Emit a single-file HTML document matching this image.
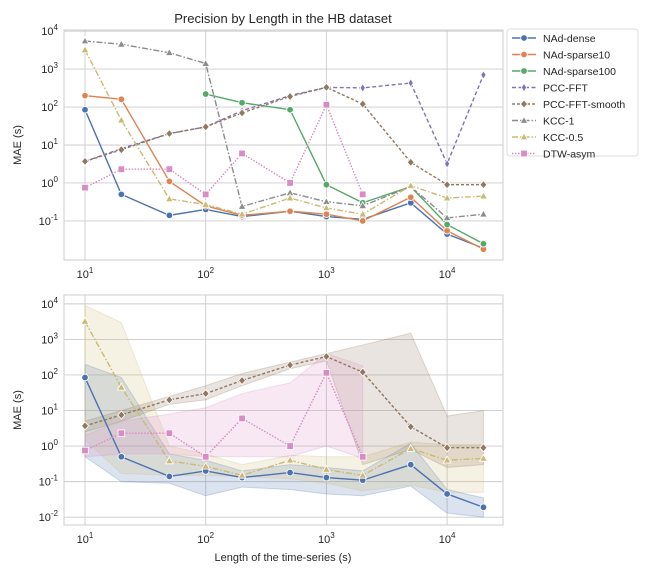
<!DOCTYPE html>
<html><head><meta charset="utf-8"><style>
body{margin:0;background:#fff;font-family:"Liberation Sans","DejaVu Sans",sans-serif;}
svg text{fill:#262626;font-family:"Liberation Sans","DejaVu Sans",sans-serif;}
</style></head><body>
<svg id="chart" width="648" height="576" xmlns="http://www.w3.org/2000/svg"></svg>
<script>
const xs = [10,20,50,100,200,500,1000,2000,5000,10000,20000];
const nadDense = [85,0.5,0.14,0.2,0.13,0.18,0.13,0.11,0.3,0.045,0.019];
const nadSparse10 = [200,160,1.1,0.25,0.14,0.18,0.15,0.1,0.42,0.055,0.018];
const nadSparse100 = [null,null,null,220,130,85,0.9,0.3,0.8,0.08,0.025];
const pccFft = [3.7,8,20,30,80,200,330,320,430,3.2,700];
const pccSmooth = [3.7,7.5,20,30,70,190,330,120,3.5,0.9,0.9];
const kcc1 = [5500,4500,2700,1400,0.24,0.55,0.32,0.25,0.8,0.12,0.15];
const kcc05 = [3200,45,0.38,0.27,0.15,0.4,0.22,0.15,0.85,0.4,0.45];
const dtwAsym = [0.75,2.3,2.3,0.5,6,1,115,0.5,null,null,null];
const denseLo = [0.5,0.1,0.09,0.04,0.07,0.06,0.045,0.04,0.075,0.013,0.01];
const denseHi = [200,85,0.6,0.4,0.2,0.3,0.25,0.2,1.2,0.06,0.035];
const kccLo = [1.5,0.17,0.15,0.15,0.14,0.12,0.09,0.055,0.08,0.05,0.05];
const kccHi = [9000,3000,1.0,0.6,0.3,0.55,0.5,0.5,1.3,1.1,1.1];
const smoothLo = [2.5,5,15,20,50,150,250,0.3,0.8,0.25,0.3];
const smoothHi = [5,10,25,50,110,230,400,700,1500,7,10];
const dtwLo = [0.5,0.6,0.6,0.5,0.5,0.5,1.0,0.45,null,null,null];
const dtwHi = [2,5,8,12,30,60,400,180,null,null,null];
const seriesNames = ["NAd-dense","NAd-sparse10","NAd-sparse100","PCC-FFT","PCC-FFT-smooth","KCC-1","KCC-0.5","DTW-asym"];

const NS="http://www.w3.org/2000/svg";
const svg=document.getElementById('chart');
function el(tag,attrs,parent){const e=document.createElementNS(NS,tag);for(const k in attrs)e.setAttribute(k,attrs[k]);(parent||svg).appendChild(e);return e;}
const C={blue:"#4c72b0",orange:"#dd8452",green:"#55a868",purple:"#8172b3",brown:"#937860",pink:"#da8bc3",gray:"#8c8c8c",yellow:"#ccb974"};
const styles=[
 {c:C.blue,d:"",m:"o"},{c:C.orange,d:"",m:"o"},{c:C.green,d:"",m:"o"},
 {c:C.purple,d:"4,2.5",m:"d"},{c:C.brown,d:"3,2",m:"D"},
 {c:C.gray,d:"6,2,1.5,2",m:"^"},{c:C.yellow,d:"6,2,1.5,2",m:"^"},{c:C.pink,d:"1.5,1.5",m:"s"}];

function makeAxes(top,bottom,yTopLog,yBotLog,minTick,name){
  const left=64,right=503;
  const xS=v=>85+(Math.log10(v)-1)*120.7;
  const yS=v=>top+(yTopLog-Math.log10(v))/(yTopLog-yBotLog)*(bottom-top);
  const g=el('g',{});  
  const grid=el('g',{},g);
  
  
  [10,100,1000,10000].forEach((v,i)=>{
    const x=xS(v);
    el('line',{x1:x,x2:x,y1:top,y2:bottom,stroke:"#cccccc","stroke-width":0.9},grid);
    const t=el('text',{x:x,y:bottom+18,"font-size":11,"text-anchor":"middle"},g);
    
    
    t.innerHTML='10<tspan dy="-5" font-size="8">'+(i+1)+'</tspan>';
  });
  for(let p=minTick;p<=Math.floor(yTopLog);p++){
    const y=yS(Math.pow(10,p));
    el('line',{x1:left,x2:right,y1:y,y2:y,stroke:"#cccccc","stroke-width":0.9},grid);
    const t=el('text',{x:58,y:y+4,"font-size":11,"text-anchor":"end"},g);
    
    
    t.innerHTML='10<tspan dy="-5" font-size="8">'+p+'</tspan>';
  }
  el('rect',{x:left,y:top,width:right-left,height:bottom-top,fill:"none",stroke:"#cccccc","stroke-width":1},g);
  const yl=el('text',{x:0,y:0,"font-size":11,"text-anchor":"middle",transform:`translate(21,${(top+bottom)/2}) rotate(-90)`},g);
  
  
  yl.textContent="MAE (s)";
  return {xS,yS,g};
}
function marker(ax,m,x,y,c,parent){
  const a={fill:c,stroke:"#fff","stroke-width":0.8};
  let e;
  if(m==="o") e=el('circle',Object.assign({cx:x,cy:y,r:3.3},a),parent);
  else if(m==="s") e=el('rect',Object.assign({x:x-3.3,y:y-3.3,width:6.6,height:6.6},a),parent);
  else if(m==="^") e=el('polygon',Object.assign({points:`${x},${y-4} ${x-3.8},${y+2.8} ${x+3.8},${y+2.8}`},a),parent);
  else if(m==="D") e=el('polygon',Object.assign({points:`${x},${y-4} ${x+3.5},${y} ${x},${y+4} ${x-3.5},${y}`},a),parent);
  else e=el('polygon',Object.assign({points:`${x},${y-4.2} ${x+2.6},${y} ${x},${y+4.2} ${x-2.6},${y}`},a),parent);
  
  
}
function series(ax,vals,st,name){
  const g=el('g',{},ax.g);
  
  
  const pts=[];
  vals.forEach((v,i)=>{if(v!=null)pts.push([ax.xS(xs[i]),ax.yS(v)]);});
  el('polyline',{points:pts.map(p=>p.join(',')).join(' '),fill:"none",stroke:st.c,"stroke-width":1.4,"stroke-dasharray":st.d},g);
  pts.forEach(p=>marker(ax,st.m,p[0],p[1],st.c,g));
}
function band(ax,lo,hi,c,name){
  const up=[],dn=[];
  xs.forEach((x,i)=>{if(lo[i]!=null){up.push([ax.xS(x),ax.yS(hi[i])]);dn.unshift([ax.xS(x),ax.yS(lo[i])]);}});
  const p=el('polygon',{points:up.concat(dn).map(q=>q.join(',')).join(' '),fill:c,"fill-opacity":0.2,stroke:c,"stroke-opacity":0.25},ax.g);
  
  
}

const t=el('text',{x:283,y:23,"font-size":13,"text-anchor":"middle"});


t.textContent="Precision by Length in the HB dataset";

const A=makeAxes(30,260,4.03,-2.03,-1,'top-panel');
const allVals=[nadDense,nadSparse10,nadSparse100,pccFft,pccSmooth,kcc1,kcc05,dtwAsym];
allVals.forEach((v,i)=>series(A,v,styles[i],'series-'+seriesNames[i].toLowerCase()));

const B=makeAxes(295,525,4.25,-2.22,-2,'bottom-panel');
band(B,denseLo,denseHi,C.blue,'band-nad-dense');
band(B,kccLo,kccHi,C.yellow,'band-kcc-0.5');
band(B,smoothLo,smoothHi,C.brown,'band-pcc-fft-smooth');
band(B,dtwLo,dtwHi,C.pink,'band-dtw-asym');
series(B,nadDense,styles[0],'series-nad-dense');
series(B,pccSmooth,styles[4],'series-pcc-fft-smooth');
series(B,kcc05,styles[6],'series-kcc-0.5');
series(B,dtwAsym,styles[7],'series-dtw-asym');
const xl=el('text',{x:283,y:561,"font-size":11,"text-anchor":"middle"});


xl.textContent="Length of the time-series (s)";

const lg=el('g',{});


el('rect',{x:507,y:29,width:131,height:127,rx:3,fill:"#fff",stroke:"#dddddd"},lg);
seriesNames.forEach((n,i)=>{
  const y=38+i*16.5;
  const e=el('g',{},lg);
  
  
  el('line',{x1:512,x2:536,y1:y,y2:y,stroke:styles[i].c,"stroke-width":1.4,"stroke-dasharray":styles[i].d},e);
  marker(null,styles[i].m,524,y,styles[i].c,e);
  const tx=el('text',{x:543,y:y+4,"font-size":10.5},e);
  tx.textContent=n;
});
</script>
</body></html>
